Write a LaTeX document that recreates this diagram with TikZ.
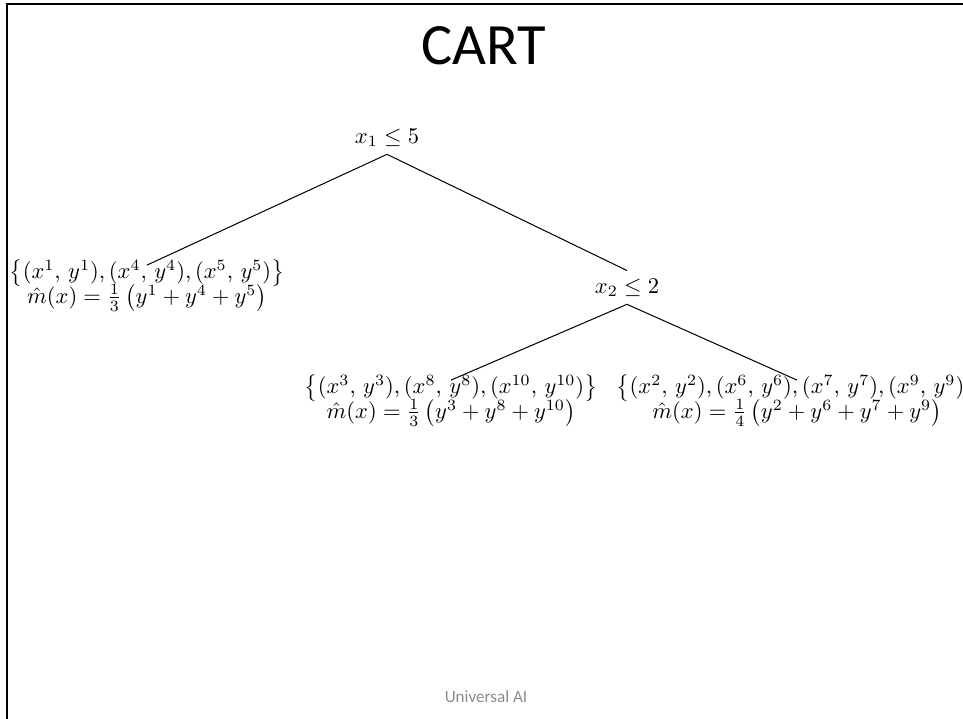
\documentclass[tikz,border=0pt]{standalone}
\usepackage{fontspec}
\newfontfamily\carlito{Carlito}
\usepackage{amsmath}
\definecolor{footgray}{HTML}{8C8C8C}
\begin{document}
\begin{tikzpicture}[x=0.4444pt,y=-0.4444pt,
  edge/.style={draw=black,line width=0.45pt},
  leaf/.style={align=center,inner sep=0pt,anchor=north},
  split/.style={anchor=base}]
\useasboundingbox (0,0) rectangle (963,719);
\clip (0,0) rectangle (963,719);
\fill[white] (0,0) rectangle (963,719);
\draw[line width=1.1pt] (7,730) -- (7,4) -- (975,4);
\node[anchor=base,font=\carlito\fontsize{26}{31}\selectfont] (title) at (484,64) {CART};
\node[split] (r) at (387,143) {$x_1 \le 5$};
\node[split] (s) at (627,293) {$x_2 \le 2$};
\node[leaf] (a) at (147,259) {$\bigl\{(x^1,\,y^1),(x^4,\,y^4),(x^5,\,y^5)\bigr\}$\\[-2pt]
  $\hat m(x)=\frac13\,\bigl(y^1+y^4+y^5\bigr)$};
\node[leaf] (b) at (451,374) {$\bigl\{(x^3,\,y^3),(x^8,\,y^8),(x^{10},\,y^{10})\bigr\}$\\[-2pt]
  $\hat m(x)=\frac13\,\bigl(y^3+y^8+y^{10}\bigr)$};
\node[leaf] (c) at (797,374) {$\bigl\{(x^2,\,y^2),(x^6,\,y^6),(x^7,\,y^7),(x^9,\,y^9)\bigr\}$\\[-2pt]
  $\hat m(x)=\frac14\,\bigl(y^2+y^6+y^7+y^9\bigr)$};
\node[anchor=base,font=\carlito\fontsize{7.6}{9}\selectfont,text=footgray] (foot) at (486,702) {Universal AI};
\draw[edge] (r.south) -- ([yshift=-2.7pt]a.north);
\draw[edge] (r.south) -- (s.north);
\draw[edge] (s.south) -- ([yshift=-2.7pt]b.north);
\draw[edge] (s.south) -- ([yshift=-2.7pt]c.north);
\end{tikzpicture}
\end{document}
